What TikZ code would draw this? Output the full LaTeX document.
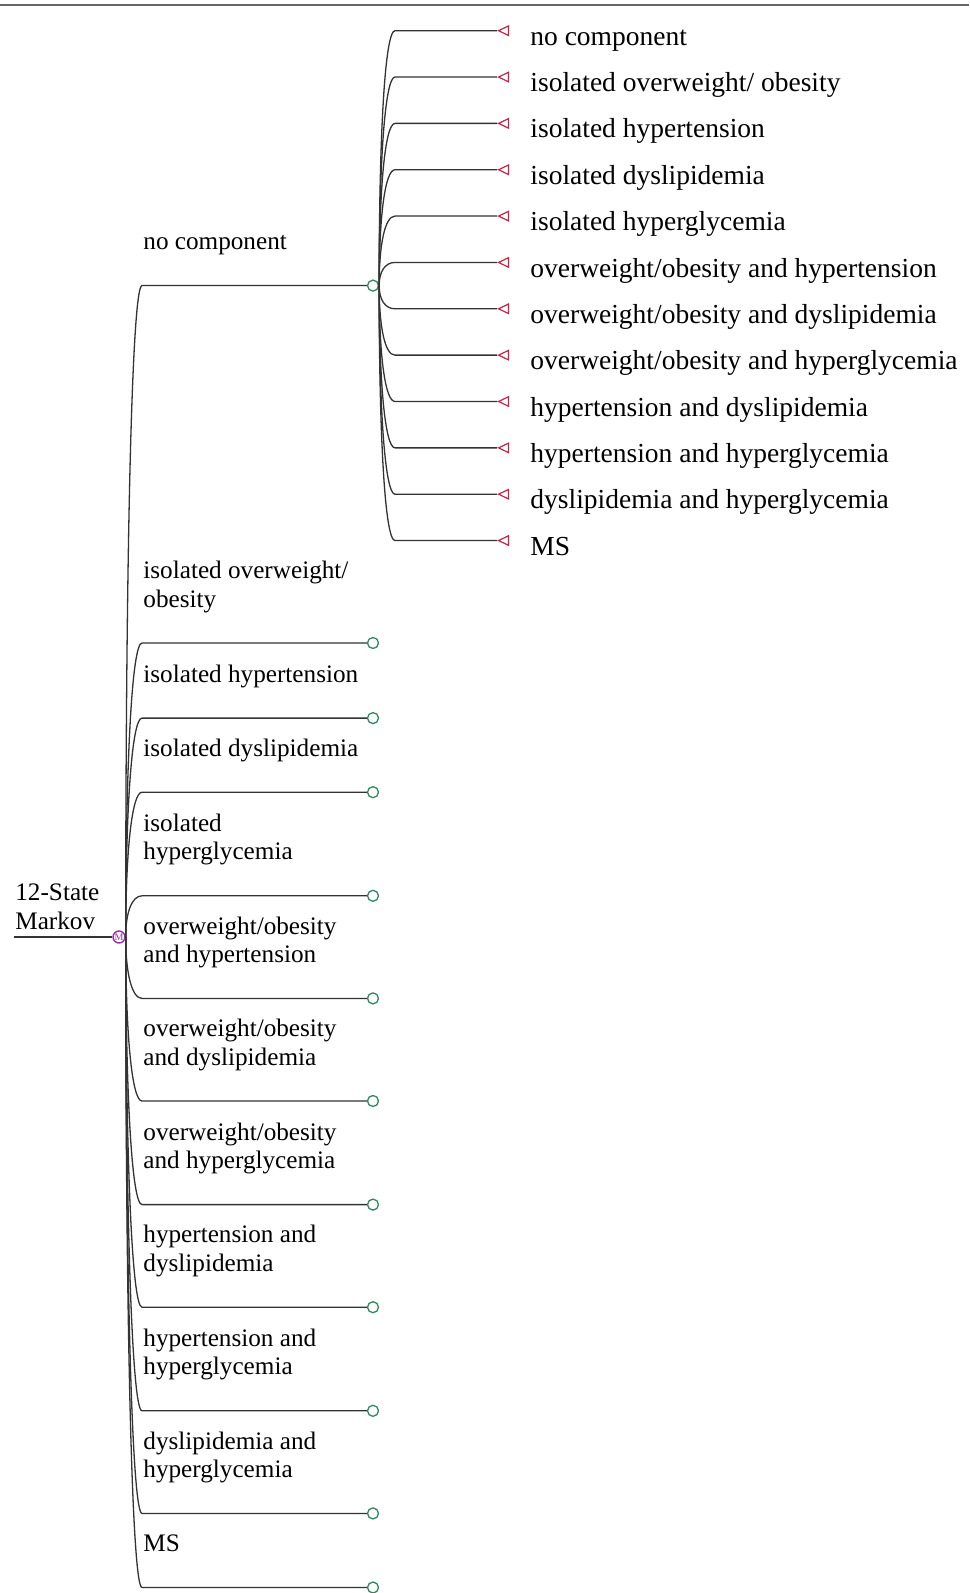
\documentclass[tikz,border=0pt]{standalone}
\usepackage{fontspec}
\setmainfont{Liberation Serif}
\usepackage{xcolor}
\usetikzlibrary{positioning, shapes.geometric}

\definecolor{markovpurple}{RGB}{150,50,175}
\definecolor{chancegreen}{RGB}{50,135,95}
\definecolor{termred}{RGB}{200,35,70}
\newcommand{\lblfont}{\fontsize{13.75}{14.2}\selectfont}
\newcommand{\statefont}{\fontsize{12.6}{14.2}\selectfont}

\begin{document}
\begin{tikzpicture}[
        x=0.5pt, y=-0.5pt,
        branch/.style={draw=black!80, line width=0.65pt},
        markov/.style={circle, draw=markovpurple, fill=white, line width=0.7pt,
          inner sep=0pt, minimum size=6pt, text=markovpurple,
        font=\fontsize{5}{5}\selectfont},
        chance/.style={circle, draw=chancegreen, fill=white, line width=0.65pt,
        inner sep=0pt, minimum size=5.5pt},
        terminal/.style={isosceles triangle, isosceles triangle stretches,
          shape border rotate=180, draw=termred, fill=white, line width=0.6pt,
        inner sep=0pt, minimum width=4.8pt, minimum height=5pt, anchor=apex},
        lbl/.style={anchor=base west, align=left, inner sep=0pt, font=\lblfont},
        statelbl/.style={lbl, font=\statefont},
      ]

      \useasboundingbox (0,0) rectangle (969,1593);
      \draw[line width=1pt, black!60] (0,5) -- (969,5);

      % root
      \coordinate (root) at (14,937);
      \node[markov] (markov) at (119,937) {M};
      \node[statelbl] (title) at (15,929) {12-State\\Markov};
      \draw[branch] (root) -- (markov);

      % first state holds the transitions
      \node[chance] (nc) at (373,285.6) {};
      \coordinate (m1) at (142,285.6);
      \draw[branch] (markov.east) .. controls +(0,{0.6*(285.6-937)}) and +(-10,0) .. (m1) -- (nc);

      \foreach \yy [count=\i from 2] in {643,718.1,792.2,895.8,998.4,1101,1204.6,1307.2,1410.8,1513.4,1587.5} {
        \node[chance] (c\i) at (373,\yy) {};
        \coordinate (m\i) at (142,\yy);
        \draw[branch] (markov.east) .. controls +(0,{0.6*(\yy-937)}) and +(-10,0) .. (m\i) -- (c\i);
      }

      % state names sit above their branch
      \node[statelbl, above right=18pt and 0.5pt of m1, anchor=base west]  (b1)  {no component};
      \node[statelbl, above right=18pt and 0.5pt of m2, anchor=base west]  (b2)  {isolated overweight/\\obesity};
      \node[statelbl, above right=18pt and 0.5pt of m3, anchor=base west]  (b3)  {isolated hypertension};
      \node[statelbl, above right=18pt and 0.5pt of m4, anchor=base west]  (b4)  {isolated dyslipidemia};
      \node[statelbl, above right=18pt and 0.5pt of m5, anchor=base west]  (b5)  {isolated\\hyperglycemia};
      \node[statelbl, above right=18pt and 0.5pt of m6, anchor=base west]  (b6)  {overweight/obesity\\and hypertension};
      \node[statelbl, above right=18pt and 0.5pt of m7, anchor=base west]  (b7)  {overweight/obesity\\and dyslipidemia};
      \node[statelbl, above right=18pt and 0.5pt of m8, anchor=base west]  (b8)  {overweight/obesity\\and hyperglycemia};
      \node[statelbl, above right=18pt and 0.5pt of m9, anchor=base west]  (b9)  {hypertension and\\dyslipidemia};
      \node[statelbl, above right=18pt and 0.5pt of m10, anchor=base west] (b10) {hypertension and\\hyperglycemia};
      \node[statelbl, above right=18pt and 0.5pt of m11, anchor=base west] (b11) {dyslipidemia and\\hyperglycemia};
      \node[statelbl, above right=18pt and 0.5pt of m12, anchor=base west] (b12) {MS};

      % transitions to the terminal states
      \foreach \txt [count=\i] in {no component, isolated overweight/ obesity,
          isolated hypertension, isolated dyslipidemia, isolated hyperglycemia,
          overweight/obesity and hypertension, overweight/obesity and dyslipidemia,
          overweight/obesity and hyperglycemia, hypertension and dyslipidemia,
        hypertension and hyperglycemia, dyslipidemia and hyperglycemia, MS} {
        \pgfmathsetmacro{\yy}{30.7+46.35*(\i-1)}
        \node[terminal] (t\i) at (497,\yy) {};
        \node[lbl] (tl\i) at (530,\yy+14.6) {\txt};
        \coordinate (k\i) at (395,\yy);
        \draw[branch] (nc.east) .. controls +(0,{0.6*(\yy-285.6)}) and +(-10,0) .. (k\i) -- (t\i.apex);
      }

    \end{tikzpicture}
\end{document}
